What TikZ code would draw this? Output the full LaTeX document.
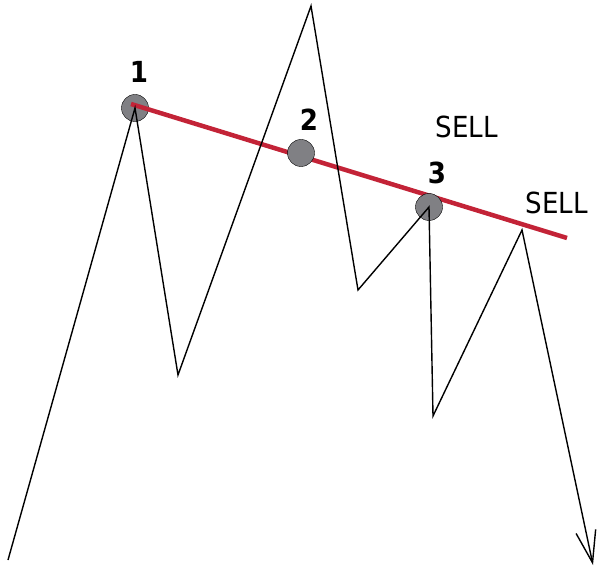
\documentclass[tikz,border=0pt]{standalone}
\usepackage{fontspec}
\setmainfont{DejaVu Sans Condensed}
\usepackage{tikz}
\usetikzlibrary{arrows.meta}
\definecolor{trendred}{RGB}{195,35,55}
\definecolor{dotgray}{RGB}{128,128,132}

\begin{document}
\begin{tikzpicture}[x=1pt,y=-1pt,
    dot/.style={circle,draw=black,thin,fill=dotgray,minimum size=27pt,inner sep=0pt},
    num/.style={font=\fontsize{29}{30}\selectfont\bfseries},
    sell/.style={font=\fontsize{29}{30}\selectfont}]
        \useasboundingbox[fill=white] (0,0) rectangle (597,572);
        % price path
        \coordinate (s0) at (8,560);
        \coordinate (p1) at (135,108);
        \coordinate (t1) at (178,375);
        \coordinate (pk) at (311,6);
        \coordinate (t2) at (358,290);
        \coordinate (p3) at (429,207);
        \coordinate (t3) at (433,416);
        \coordinate (pk2) at (522,230);
        \coordinate (e) at (593,565);
        % touches of the line
        \node[dot] (d1) at (p1) {};
        \coordinate (r0) at (131,104);
        \coordinate (r1) at (567,238);
        \draw[line width=4.5pt,trendred] (r0) -- (r1);
        \node[dot] (d2) at (301,153) {};
        \node[dot] (d3) at (p3) {};
        \draw[line width=1.4pt,-{Straight Barb[length=32pt,width=20pt]}]
          (s0) -- (p1) -- (t1) -- (pk) -- (t2) -- (p3) -- (t3) -- (pk2) -- (e);
        \node[num] (n1) at (139,72) {1};
        \node[num] (n2) at (309,120) {2};
        \node[num] (n3) at (437,173) {3};
        \node[sell] (sell1) at (467,127) {SELL};
        \node[sell] (sell2) at (557,203) {SELL};
      \end{tikzpicture}
\end{document}
